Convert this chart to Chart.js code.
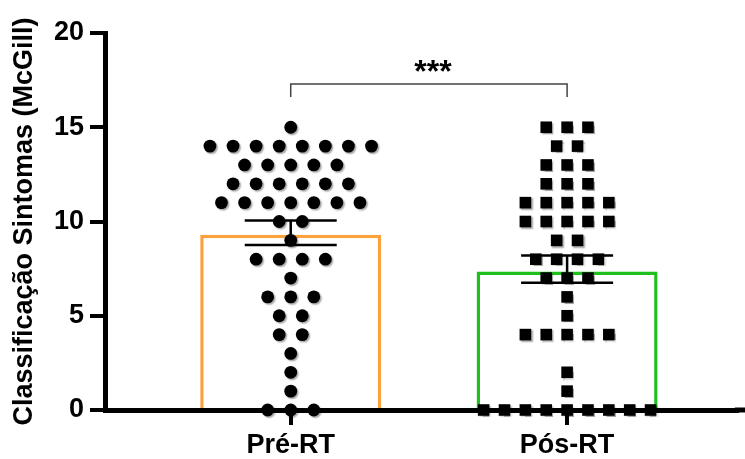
<!DOCTYPE html>
<html>
<head>
<meta charset="utf-8">
<script src="https://cdn.jsdelivr.net/npm/chart.js@4.4.0/dist/chart.umd.min.js"></script>
<style>
  body { margin: 0; background: #fff; }
  #wrap { width: 745px; height: 459px; }
</style>
</head>
<body>
<div id="wrap"><canvas id="chart" width="745" height="459"></canvas></div>
<script>
// categories and data
const groups = ['Pré-RT', 'Pós-RT'];
const scores = [0, 1, 2, 3, 4, 5, 6, 7, 8, 9, 10, 11, 12, 13, 14, 15];
// number of patients at each score
const preCounts = [3, 1, 1, 1, 2, 2, 3, 1, 4, 1, 2, 7, 6, 5, 8, 1];
const posCounts = [9, 1, 1, 0, 5, 1, 1, 3, 4, 2, 5, 5, 3, 3, 2, 3];
// bar = mean, whiskers = mean +/- SEM
const means = [9.3, 7.35];
const errLow = [8.75, 6.75];
const errHigh = [10.05, 8.2];
const yTicks = [0, 5, 10, 15, 20];
const sigLabel = '***';

const FONT = '"Liberation Sans", Arial, sans-serif';

// spread the dots of one row side by side around the group centre
function swarm(groupIndex, counts, gap) {
    const pts = [];
    scores.forEach((s, i) => {
        const n = counts[i];
        for (let k = 0; k < n; k++) {
            pts.push({ x: groupIndex + (k - (n - 1) / 2) * gap, y: s });
        }
    });
    return pts;
}

const errorBars = {
    id: 'errorBars',
    afterDatasetDraw(chart, args) {
        if (args.index !== 0) return;
        const ctx = chart.ctx, xs = chart.scales.x, ys = chart.scales.y;
        ctx.save();
        ctx.strokeStyle = '#000';
        ctx.lineWidth = 2.5;
        means.forEach((m, i) => {
            const cx = xs.getPixelForValue(i);
            const top = ys.getPixelForValue(errHigh[i]);
            const bot = ys.getPixelForValue(errLow[i]);
            ctx.beginPath();
            ctx.moveTo(cx, top); ctx.lineTo(cx, bot);
            ctx.moveTo(cx - 46, top); ctx.lineTo(cx + 46, top);
            ctx.moveTo(cx - 46, bot); ctx.lineTo(cx + 46, bot);
            ctx.stroke();
        });
        ctx.restore();
    }
};

const dotShadow = {
    id: 'dotShadow',
    beforeDatasetDraw(chart, args) {
        if (args.index === 0) return;
        const ctx = chart.ctx;
        ctx.save();
        ctx.shadowColor = 'rgba(0,0,0,0.35)';
        ctx.shadowOffsetX = 1.5;
        ctx.shadowOffsetY = 1.5;
        ctx.shadowBlur = 1.5;
    },
    afterDatasetDraw(chart, args) {
        if (args.index === 0) return;
        chart.ctx.restore();
    }
};

const bracket = {
    id: 'bracket',
    afterDraw(chart) {
        const ctx = chart.ctx, xs = chart.scales.x, ys = chart.scales.y;
        const x1 = xs.getPixelForValue(0), x2 = xs.getPixelForValue(1);
        const yTop = ys.getPixelForValue(17.3), yEnd = ys.getPixelForValue(16.6);
        ctx.save();
        // x axis line runs on to the right edge
        ctx.strokeStyle = '#000';
        ctx.lineWidth = 5;
        ctx.beginPath();
        ctx.moveTo(chart.chartArea.right - 2, ys.getPixelForValue(0));
        ctx.lineTo(chart.width, ys.getPixelForValue(0));
        ctx.stroke();

        ctx.strokeStyle = '#444';
        ctx.lineWidth = 1.5;
        ctx.beginPath();
        ctx.moveTo(x1, yEnd); ctx.lineTo(x1, yTop); ctx.lineTo(x2, yTop); ctx.lineTo(x2, yEnd);
        ctx.stroke();
        ctx.fillStyle = '#000';
        ctx.font = 'bold 32px ' + FONT;
        ctx.textAlign = 'center';
        ctx.textBaseline = 'alphabetic';
        ctx.fillText(sigLabel, (x1 + x2) / 2 + 4, yTop - 2);
        ctx.restore();
    }
};

new Chart(document.getElementById('chart'), {
    type: 'bar',
    data: {
        datasets: [{
            type: 'bar',
            data: means.map((m, i) => ({ x: i, y: m })),
            backgroundColor: '#ffffff',
            borderColor: ['#FAA23C', '#1EC01E'],
            borderWidth: 3.5,
            borderSkipped: 'bottom',
            barPercentage: 0.655,
            categoryPercentage: 1.0,
            order: 2
        }, {
            type: 'scatter',
            data: swarm(0, preCounts, 0.0835),
            pointStyle: 'circle',
            pointRadius: 6.4,
            pointBackgroundColor: '#000',
            pointBorderWidth: 0,
            clip: false,
            order: 1
        }, {
            type: 'scatter',
            data: swarm(1, posCounts, 0.0755),
            pointStyle: 'rect',
            pointRadius: 8.2,
            pointBackgroundColor: '#000',
            pointBorderWidth: 0,
            clip: false,
            order: 1
        }]
    },
    options: {
        responsive: false,
        animation: false,
        layout: { padding: { top: 33, right: 0, bottom: 0, left: 0 } },
        plugins: { legend: { display: false }, tooltip: { enabled: false } },
        scales: {
            x: {
                type: 'linear',
                offset: false,
                min: -0.672,
                max: 1.614,
                afterBuildTicks: s => { s.ticks = groups.map((g, i) => ({ value: i })); },
                afterFit: s => { s.height = 49; },
                ticks: {
                    callback: v => groups[v],
                    color: '#000',
                    font: { family: FONT, size: 27, weight: 'bold' },
                    padding: 4,
                    maxRotation: 0
                },
                grid: { offset: false, drawOnChartArea: false, drawTicks: true, tickLength: 15, lineWidth: 4, color: '#000' },
                border: { display: true, color: '#000', width: 5 }
            },
            y: {
                min: 0,
                max: 20,
                afterBuildTicks: s => { s.ticks = yTicks.map(v => ({ value: v })); },
                afterFit: s => { s.width = 105; },
                ticks: {
                    color: '#000',
                    font: { family: FONT, size: 27, weight: 'bold' },
                    padding: 6
                },
                grid: { drawOnChartArea: false, drawTicks: true, tickLength: 15, lineWidth: 4, color: '#000' },
                border: { display: true, color: '#000', width: 5 },
                title: {
                    display: true,
                    text: 'Classificação Sintomas (McGill)',
                    color: '#000',
                    font: { family: FONT, size: 27, weight: 'bold' },
                    padding: { top: 8, bottom: 0 }
                }
            }
        }
    },
    plugins: [errorBars, dotShadow, bracket]
});
</script>
</body>
</html>
